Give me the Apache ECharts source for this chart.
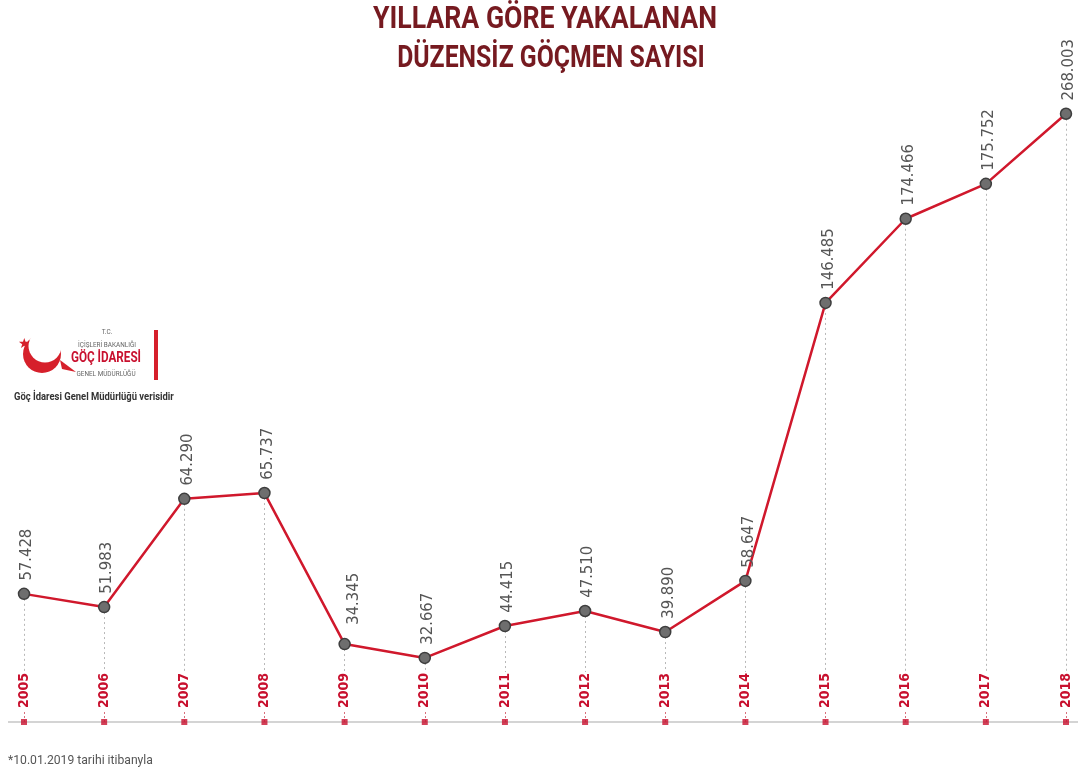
<!DOCTYPE html>
<html>
<head>
<meta charset="utf-8" />
<title>Yıllara Göre Yakalanan Düzensiz Göçmen Sayısı</title>
<script src="https://cdn.jsdelivr.net/npm/echarts@6/dist/echarts.min.js"></script>
<style>
	html, body { margin: 0; padding: 0; background: #ffffff; }
	#chart { width: 1078px; height: 775px; }
</style>
</head>
<body>
<div id="chart"></div>
<script>
// yillar
var years = ['2005', '2006', '2007', '2008', '2009', '2010', '2011', '2012', '2013', '2014', '2015', '2016', '2017', '2018'];
// yakalanan düzensiz göçmen sayısı (etiketlerde yazan değerler)
var counts = [57428, 51983, 64290, 65737, 34345, 32667, 44415, 47510, 39890, 58647, 146485, 174466, 175752, 268003];
// orijinal infografik ölçekli değil: noktaların resimdeki yükseklikleri (aynı birimde okunmuş)
var drawnLevel = [60400, 54700, 101500, 104000, 38700, 32700, 46500, 53000, 43900, 66000, 186200, 222600, 237700, 268000];

var axisMin = 5000;
var axisMax = 280000;
var guideBottom = 26600;

var FONT = '"DejaVu Sans", sans-serif';
var STRETCH = 'condensed';
var RED = '#c8102e';

function fmt(v) {
	return String(v).replace(/\B(?=(\d{3})+(?!\d))/g, '.');
}

var guideLines = drawnLevel.map(function (v, i) {
	return [{ coord: [i, v] }, { coord: [i, guideBottom] }];
});
var baseDots = years.map(function () { return axisMin; });

// 2009 etiketi cizgiden kacmak icin saga kaymis
var lineData = drawnLevel.map(function (v, i) {
	if (years[i] === '2009') {
		return { value: v, label: { offset: [7, 9] } };
	}
	return v;
});

var chart = echarts.init(document.getElementById('chart'));

var option = {
	backgroundColor: '#ffffff',
	animation: false,
	grid: { left: 24, right: 12, top: 86, bottom: 53 },
	xAxis: {
		type: 'category',
		data: years,
		boundaryGap: false,
		axisLine: { show: false },
		axisTick: {
			show: true,
			inside: true,
			length: 10,
			lineStyle: { color: '#d9707c', type: [2, 2], width: 1 }
		},
		axisLabel: {
			inside: true,
			rotate: 90,
			margin: 14,
			color: RED,
			fontFamily: FONT,
			fontStyle: STRETCH,
			fontWeight: 'bold',
			fontSize: 14
		},
		splitLine: { show: false }
	},
	yAxis: {
		type: 'value',
		min: axisMin,
		max: axisMax,
		show: false
	},
	graphic: [
		// baslik
		{ type: 'text', x: 545, y: 5, scaleX: 0.86, style: { text: 'YILLARA GÖRE YAKALANAN', align: 'center', fill: '#761a20', fontSize: 31, fontWeight: 'bold', fontFamily: 'Roboto' } },
		{ type: 'text', x: 551, y: 44, scaleX: 0.8, style: { text: 'DÜZENSİZ GÖÇMEN SAYISI', align: 'center', fill: '#761a20', fontSize: 31, fontWeight: 'bold', fontFamily: 'Roboto' } },
		// taban çizgisi
		{ type: 'line', shape: { x1: 8, y1: 722, x2: 1078, y2: 722 }, style: { stroke: '#d4d4d4', lineWidth: 2 }, z: 0 },
		// logo: hilal ve yildiz
		{ type: 'circle', shape: { cx: 42, cy: 354, r: 19 }, style: { fill: '#d6202b' } },
		{ type: 'circle', shape: { cx: 45, cy: 346, r: 16.5 }, style: { fill: '#ffffff' } },
		{ type: 'polygon', shape: { points: [[60, 360], [76, 372], [62, 369]] }, style: { fill: '#d6202b' } },
		{ type: 'text', left: 18, top: 337, style: { text: '★', fill: '#d6202b', fontSize: 14, fontFamily: 'DejaVu Sans' } },
		{ type: 'text', x: 107, y: 328, scaleX: 0.8, style: { text: 'T.C.', align: 'center', fill: '#666666', fontSize: 8, fontFamily: 'Roboto' } },
		{ type: 'text', x: 107, y: 341, scaleX: 0.8, style: { text: 'İÇİŞLERİ BAKANLIĞI', align: 'center', fill: '#666666', fontSize: 8, fontFamily: 'Roboto' } },
		{ type: 'text', x: 106, y: 351, scaleX: 0.78, style: { text: 'GÖÇ İDARESİ', align: 'center', fill: '#c8102e', fontSize: 15, fontWeight: 'bold', fontFamily: 'Roboto' } },
		{ type: 'text', x: 106, y: 370, scaleX: 0.8, style: { text: 'GENEL MÜDÜRLÜĞÜ', align: 'center', fill: '#666666', fontSize: 8, fontFamily: 'Roboto' } },
		{ type: 'rect', shape: { x: 154, y: 330, width: 4, height: 50 }, style: { fill: '#d6202b' } },
		{ type: 'text', x: 14, y: 391, scaleX: 0.82, style: { text: 'Göç İdaresi Genel Müdürlüğü verisidir', fill: '#333333', fontSize: 11.5, fontWeight: 'bold', fontFamily: 'Roboto' } },
		// dipnot
		{ type: 'text', x: 8, y: 754, scaleX: 0.9, style: { text: '*10.01.2019 tarihi itibanyla', fill: '#555555', fontSize: 13.5, fontFamily: 'Roboto' } }
	],
	series: [
		{
			name: 'Yakalanan',
			type: 'line',
			data: lineData,
			symbol: 'circle',
			symbolSize: 11,
			z: 5,
			lineStyle: { color: '#d0182c', width: 2.5 },
			itemStyle: { color: '#6e6e6e', borderColor: '#3e3e3e', borderWidth: 1.5 },
			label: {
				show: true,
				position: 'top',
				distance: 6,
				rotate: 90,
				align: 'left',
				verticalAlign: 'middle',
				offset: [1, 3],
				color: '#555555',
				fontFamily: FONT,
				fontStyle: STRETCH,
				fontSize: 16.5,
				formatter: function (p) { return fmt(counts[p.dataIndex]); }
			},
			markLine: {
				silent: true,
				symbol: 'none',
				label: { show: false },
				lineStyle: { color: '#b8b8b8', type: [2, 3], width: 1 },
				data: guideLines
			}
		},
		{
			name: 'taban',
			type: 'scatter',
			data: baseDots,
			symbol: 'rect',
			symbolSize: 6,
			z: 4,
			itemStyle: { color: RED },
			silent: true
		}
	]
};

chart.setOption(option);
</script>
</body>
</html>
